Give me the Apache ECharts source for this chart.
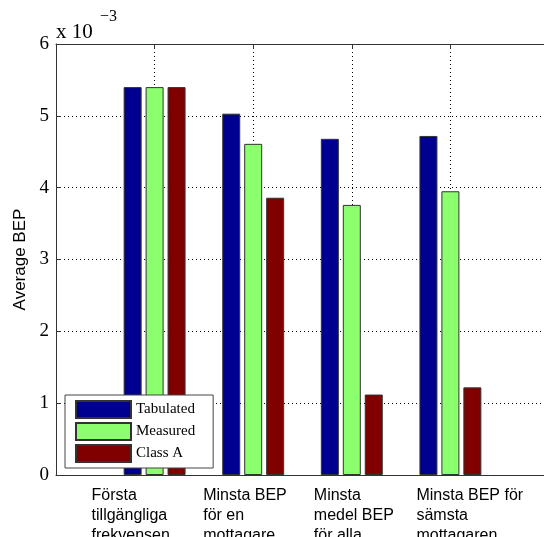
<!DOCTYPE html>
<html>
<head>
<meta charset="utf-8">
<script src="https://cdn.jsdelivr.net/npm/echarts@6/dist/echarts.min.js"></script>
<style>html,body{margin:0;padding:0;background:#fff;}#c{width:544px;height:537px;}</style>
</head>
<body>
<div id="c"></div>
<script>
// ---- data ----
var categories = [
  ["Första", "tillgängliga", "frekvensen"],
  ["Minsta BEP", "för en", "mottagare"],
  ["Minsta", "medel BEP", "för alla"],
  ["Minsta BEP för", "sämsta", "mottagaren"]
];
var seriesNames = ["Tabulated", "Measured", "Class A"];
var tabulated = [0.00540, 0.00503, 0.00468, 0.00472];
var measured  = [0.00540, 0.00461, 0.00376, 0.00395];
var classA    = [0.00540, 0.00386, 0.00112, 0.00122];
var yTickLabels = ["0", "1", "2", "3", "4", "5", "6"];
var scaleNote = ["x 10", "\u22123"];

// ---- styles ----
var colors = ["#000090", "#8CFF6E", "#800000"];
var labelShift = [63, 50, 38, 34];

var rich = {};
labelShift.forEach(function (w, i) {
  rich["c" + i] = {
    width: w, align: "left", overflow: "none",
    fontFamily: "Liberation Sans, Arial, sans-serif",
    fontSize: 16, lineHeight: 20, color: "#000"
  };
});

function toPairs(arr) {
  return arr.map(function (v, i) { return [i + 1, v]; });
}

var seriesData = [tabulated, measured, classA];
var series = seriesData.map(function (arr, k) {
  return {
    name: seriesNames[k],
    type: "bar",
    data: toPairs(arr),
    barWidth: 18,
    barGap: "22%",
    itemStyle: { color: colors[k], borderColor: "#333", borderWidth: 1 },
    emphasis: { disabled: true }
  };
});

var serif = "Liberation Serif, Times New Roman, serif";

var chart = echarts.init(document.getElementById("c"), null, { renderer: "canvas" });
chart.setOption({
  animation: false,
  backgroundColor: "#fff",
  title: [
    { text: scaleNote[0], left: 56, top: 22, padding: 0,
      textStyle: { fontFamily: serif, fontWeight: "normal", fontSize: 21, color: "#000" } },
    { text: scaleNote[1], left: 100, top: 9, padding: 0,
      textStyle: { fontFamily: serif, fontWeight: "normal", fontSize: 16, color: "#000" } }
  ],
  legend: {
    data: seriesNames,
    orient: "vertical",
    left: 65, top: 395,
    itemWidth: 55, itemHeight: 17, itemGap: 3,
    padding: [5, 18, 5, 10],
    backgroundColor: "#fff",
    borderColor: "#444", borderWidth: 1,
    icon: "rect",
    selectedMode: false,
    textStyle: { fontFamily: serif, fontSize: 15, lineHeight: 17, color: "#000" }
  },
  grid: { left: 56, top: 44, width: 493, bottom: 62, containLabel: false, outerBoundsMode: "none" },
  xAxis: [
    {
      type: "value", min: 0, max: 5, interval: 1, position: "bottom",
      axisLine: { show: true, lineStyle: { color: "#333", width: 1 } },
      axisTick: { show: true, inside: true, length: 5, lineStyle: { color: "#333" } },
      splitLine: { show: true, lineStyle: { color: "#000", type: [1, 3], width: 1 } },
      axisLabel: {
        show: true, margin: 11, align: "right", verticalAlign: "top",
        showMinLabel: true, showMaxLabel: true,
        formatter: function (v) {
          var i = Math.round(v) - 1;
          if (i < 0 || i >= categories.length) return "";
          return categories[i].map(function (s) { return "{c" + i + "|" + s + "}"; }).join("\n");
        },
        rich: rich
      }
    },
    {
      type: "value", min: 0, max: 5, interval: 1, position: "top",
      axisLine: { show: true, lineStyle: { color: "#333", width: 1 } },
      axisTick: { show: true, inside: true, length: 5, lineStyle: { color: "#333" } },
      splitLine: { show: false },
      axisLabel: { show: false }
    }
  ],
  yAxis: {
    type: "value", min: 0, max: 0.006, interval: 0.001,
    name: "Average BEP",
    nameLocation: "middle",
    nameGap: 22,
    nameTextStyle: { fontFamily: "Liberation Sans, Arial, sans-serif", fontSize: 17, color: "#000" },
    axisLine: { show: true, lineStyle: { color: "#333", width: 1 } },
    axisTick: { show: true, inside: true, length: 5, lineStyle: { color: "#333" } },
    splitLine: { show: true, lineStyle: { color: "#000", type: [1, 3], width: 1 } },
    axisLabel: {
      margin: 7,
      fontFamily: serif,
      fontSize: 19, color: "#000",
      formatter: function (v) { return yTickLabels[Math.round(v * 1000)]; }
    }
  },
  series: series
});
</script>
</body>
</html>
